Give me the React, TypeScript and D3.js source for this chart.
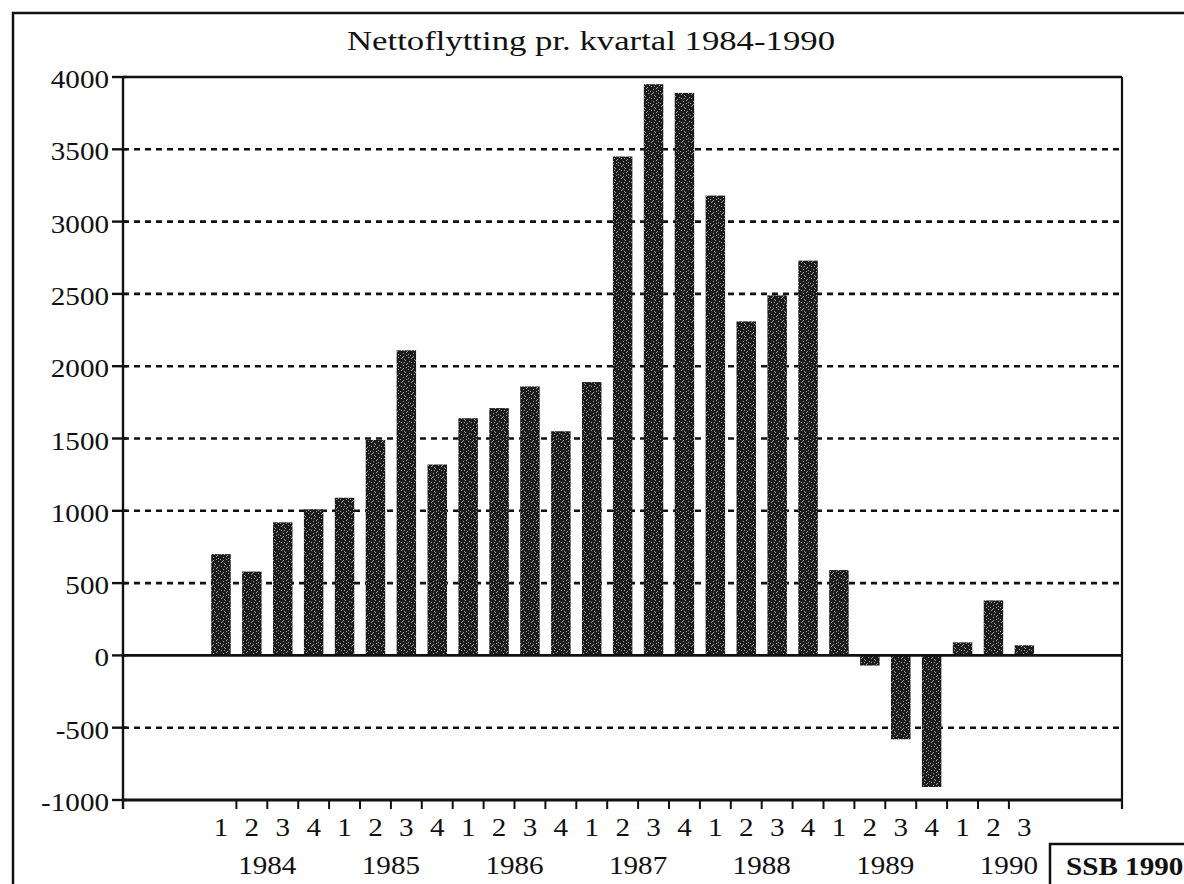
import React from "react";
import * as d3 from "d3";

const years = ["1984", "1985", "1986", "1987", "1988", "1989", "1990"];
const quarterLabels = ["1", "2", "3", "4"];
const periods = [
  "1984-1", "1984-2", "1984-3", "1984-4",
  "1985-1", "1985-2", "1985-3", "1985-4",
  "1986-1", "1986-2", "1986-3", "1986-4",
  "1987-1", "1987-2", "1987-3", "1987-4",
  "1988-1", "1988-2", "1988-3", "1988-4",
  "1989-1", "1989-2", "1989-3", "1989-4",
  "1990-1", "1990-2", "1990-3",
];
const values = [
  700, 580, 920, 1010,
  1090, 1490, 2110, 1320,
  1640, 1710, 1860, 1550,
  1890, 3450, 3950, 3890,
  3180, 2310, 2490, 2730,
  590, -70, -580, -910,
  90, 380, 70,
];
const yTicks = [-1000, -500, 0, 500, 1000, 1500, 2000, 2500, 3000, 3500, 4000];
const title = "Nettoflytting pr. kvartal 1984-1990";
const source = "SSB 1990";

const W = 1184;
const H = 884;
const left = 123;
const right = 1122;
const top = 77;
const bottom = 800;
const font = "'Liberation Serif', 'Times New Roman', serif";
const SX = 1.12;

function T(props: {
  x: number;
  y: number;
  anchor?: string;
  size?: number;
  bold?: boolean;
  children: React.ReactNode;
}) {
  const { x, y, anchor = "middle", size = 26, bold = false, children } = props;
  return (
    <text
      transform={`translate(${x},${y}) scale(${SX},1)`}
      textAnchor={anchor}
      fontSize={size}
      fontWeight={bold ? "bold" : "normal"}
      fill="#111"
    >
      {children}
    </text>
  );
}

export default function App() {
  const x = d3
    .scaleBand<string>()
    .domain(periods)
    .range([205.5, 1039.8])
    .paddingInner(0.37)
    .paddingOuter(0.185);
  const y = d3.scaleLinear().domain([-1000, 4000]).range([bottom, top]);
  const step = x.step();
  const bw = x.bandwidth();
  const gap = step - bw;
  const tickX = (p: string) => (x(p) as number) + bw + gap / 2;
  const centerX = (p: string) => (x(p) as number) + bw / 2;

  const speck: [number, number][] = [
    [1, 2], [5, 0], [3, 5], [7, 3], [0, 7], [6, 7], [2, 9], [8, 9], [4, 11], [9, 1],
    [4, 2], [8, 6], [1, 10], [6, 4], [3, 8],
  ];

  return (
    <svg
      width={W}
      height={H}
      style={{ position: "absolute", left: 0, top: 0, background: "#fff" }}
      fontFamily={font}
    >
      <defs>
        <pattern id="tex" width={10} height={12} patternUnits="userSpaceOnUse">
          <rect width={10} height={12} fill="#1c1c1c" />
          {speck.map(([a, b], i) => (
            <rect key={i} x={a} y={b} width={1} height={1} fill="#a0a0a0" />
          ))}
        </pattern>
      </defs>
      <rect x={0} y={0} width={W} height={H} fill="#fff" />
      {/* outer frame */}
      <rect x={13} y={13} width={1180} height={890} fill="none" stroke="#111" strokeWidth={2.5} />

      <text
        x={591}
        y={50}
        textAnchor="middle"
        fontSize={28}
        fill="#111"
        textLength={488}
        lengthAdjust="spacingAndGlyphs"
      >
        {title}
      </text>

      {/* gridlines */}
      {yTicks
        .filter((t) => t !== 0 && t !== 4000 && t !== -1000)
        .map((t) => (
          <line
            key={"g" + t}
            x1={left}
            x2={right}
            y1={y(t)}
            y2={y(t)}
            stroke="#111"
            strokeWidth={2.6}
            strokeDasharray="6,5"
          />
        ))}

      {/* bars */}
      {periods.map((p, i) => {
        const v = values[i];
        const y0 = y(0);
        const y1 = y(v);
        return (
          <rect
            key={p}
            x={x(p)}
            y={Math.min(y0, y1)}
            width={bw}
            height={Math.abs(y1 - y0)}
            fill="url(#tex)"
          />
        );
      })}

      {/* zero line */}
      <line x1={left} x2={right} y1={y(0)} y2={y(0)} stroke="#111" strokeWidth={2.6} />
      {/* frame of plot */}
      <line x1={left} x2={right} y1={top} y2={top} stroke="#111" strokeWidth={2.6} />
      <line x1={left} x2={right} y1={bottom} y2={bottom} stroke="#111" strokeWidth={3} />
      <line x1={left} x2={left} y1={top} y2={bottom + 9} stroke="#111" strokeWidth={2.4} />
      <line x1={right} x2={right} y1={top} y2={bottom + 9} stroke="#111" strokeWidth={2.2} />

      {/* y ticks and labels */}
      {yTicks.map((t) => (
        <g key={"y" + t}>
          <line x1={left - 11} x2={left + 4} y1={y(t)} y2={y(t)} stroke="#111" strokeWidth={2.4} />
          <T x={109} y={y(t) + 11} anchor="end">
            {t}
          </T>
        </g>
      ))}

      {/* x ticks */}
      {periods.slice(0, periods.length - 1).map((p) => (
        <line
          key={"t" + p}
          x1={tickX(p)}
          x2={tickX(p)}
          y1={bottom}
          y2={bottom + 9}
          stroke="#111"
          strokeWidth={2}
        />
      ))}

      {/* quarter labels */}
      {periods.map((p, i) => (
        <T key={"q" + p} x={centerX(p)} y={836}>
          {quarterLabels[i % 4]}
        </T>
      ))}

      {/* year labels */}
      {years.map((yr, k) => (
        <T key={yr} x={tickX(periods[k * 4 + 1])} y={874}>
          {yr}
        </T>
      ))}

      {/* source box */}
      <rect x={1050} y={844} width={150} height={60} fill="#fff" stroke="#111" strokeWidth={2.5} />
      <T x={1066} y={875} anchor="start" bold>
        {source}
      </T>
    </svg>
  );
}
